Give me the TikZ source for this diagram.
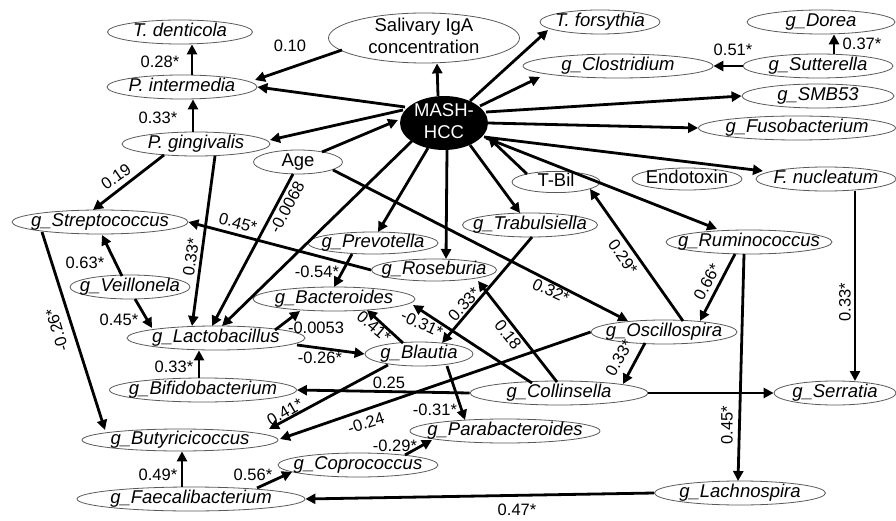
\documentclass[tikz,border=0pt]{standalone}
\usepackage{fontspec}
\setmainfont{Liberation Sans}
\usetikzlibrary{shapes.geometric,arrows.meta}

\newcommand{\gn}[1]{\makebox[0pt]{\itshape #1}}
\newcommand{\vn}[1]{\makebox[0pt]{#1}}

\begin{document}
\begin{tikzpicture}[
  x=1pt, y=-1pt,
  font=\fontsize{18.5}{22}\selectfont,
  ov/.style={ellipse, draw=black!65, line width=0.8pt, inner sep=0pt,
             minimum height=24pt, text height=12pt, text depth=3pt},
  arr/.style={-{Triangle[length=10pt,width=10pt]}, line width=2.8pt},
  lab/.style={font=\fontsize{16.5}{18}\selectfont, inner sep=1pt}
]
\useasboundingbox (0,0) rectangle (896,521);

% --- oral side ---
\node[ov, minimum width=145pt] (tden) at (180,32) {\gn{T. denticola}};
\node[ov, minimum width=150pt] (pint) at (182,87) {\gn{P. intermedia}};
\node[ov, minimum width=148pt] (pgin) at (196,144) {\gn{P. gingivalis}};
\node[ov, minimum width=191pt, minimum height=50pt] (siga) at (424,38)
      {\vn{\begin{tabular}{@{}c@{}}Salivary IgA\\concentration\end{tabular}}};
\node[ov, minimum width=120pt] (tfor) at (600,22) {\gn{T. forsythia}};
\node[ov, minimum width=89pt] (age) at (298,162) {\vn{Age}};

% --- MASH-HCC ---
\node[ellipse, fill=black, minimum width=88pt, minimum height=54pt,
      inner sep=0pt, text=white, text height=12pt, text depth=3pt] (mash)
      at (444,123) {\vn{\begin{tabular}{@{}c@{}}MASH-\\HCC\end{tabular}}};

% --- upper right ---
\node[ov, minimum width=148pt] (dorea) at (821,22) {\gn{g\_Dorea}};
\node[ov, minimum width=150pt] (sutt) at (818,66) {\gn{g\_Sutterella}};
\node[ov, minimum width=190pt] (clos) at (618,66) {\gn{g\_Clostridium}};
\node[ov, minimum width=152pt] (smb) at (818,96) {\gn{g\_SMB53}};
\node[ov, minimum width=197pt] (fuso) at (797,128) {\gn{g\_Fusobacterium}};
\node[ov, minimum width=88pt, minimum height=20pt] (tbil) at (556,182) {\vn{T-Bil}};
\node[ov, minimum width=110pt, minimum height=22pt] (endo) at (687,179) {\vn{Endotoxin}};
\node[ov, minimum width=140pt] (fnuc) at (826,179) {\gn{F. nucleatum}};

% --- gut genera ---
\node[ov, minimum width=176pt] (strep) at (100,222) {\gn{g\_Streptococcus}};
\node[ov, minimum width=130pt, minimum height=22pt] (prev) at (373,243) {\gn{g\_Prevotella}};
\node[ov, minimum width=135pt] (trab) at (530,225) {\gn{g\_Trabulsiella}};
\node[ov, minimum width=166pt] (rumi) at (749,242) {\gn{g\_Ruminococcus}};
\node[ov, minimum width=125pt, minimum height=22pt] (rose) at (434,270) {\gn{g\_Roseburia}};
\node[ov, minimum width=120pt] (veil) at (130,287) {\gn{g\_Veillonela}};
\node[ov, minimum width=162pt] (bact) at (334,299) {\gn{g\_Bacteroides}};
\node[ov, minimum width=178pt] (lact) at (216,338) {\gn{g\_Lactobacillus}};
\node[ov, minimum width=108pt] (blau) at (419,354) {\gn{g\_Blautia}};
\node[ov, minimum width=146pt] (osci) at (664,332) {\gn{g\_Oscillospira}};
\node[ov, minimum width=187pt] (bifi) at (203,390) {\gn{g\_Bifidobacterium}};
\node[ov, minimum width=178pt] (coll) at (559,393) {\gn{g\_Collinsella}};
\node[ov, minimum width=122pt] (serr) at (835,393) {\gn{g\_Serratia}};
\node[ov, minimum width=196pt, minimum height=22pt] (buty) at (180,440) {\gn{g\_Butyricicoccus}};
\node[ov, minimum width=190pt] (para) at (505,431) {\gn{g\_Parabacteroides}};
\node[ov, minimum width=160pt] (copr) at (358,465) {\gn{g\_Coprococcus}};
\node[ov, minimum width=228pt] (faec) at (191,499) {\gn{g\_Faecalibacterium}};
\node[ov, minimum width=171pt] (lach) at (740,493) {\gn{g\_Lachnospira}};

% --- paths ---
\draw[arr] ([shift={(10,0)}]pint.north) -- ([shift={(12,0)}]tden.south);
\draw[arr] ([shift={(-3,0)}]pgin.north) -- ([shift={(11,0)}]pint.south);
\draw[arr] ([shift={(-82,12)}]siga.center) -- ([shift={(73,-7)}]pint.center);
\draw[arr] ([shift={(-39,-16)}]mash.center) -- (pint.east);
\draw[arr] ([shift={(-6,0)}]mash.north) -- ([shift={(13,0)}]siga.south);
\draw[arr] ([shift={(26,-22)}]mash.center) -- ([shift={(-52,8)}]tfor.center);
\draw[arr] ([shift={(36,-17)}]mash.center) -- ([shift={(-78,11)}]clos.center);
\draw[arr] (sutt.west) -- (clos.east);
\draw[arr] ([shift={(16,0)}]sutt.north) -- ([shift={(13,0)}]dorea.south);
\draw[arr] ([shift={(42,-11)}]mash.center) -- (smb.west);
\draw[arr] (mash.east) -- (fuso.west);
\draw[arr] ([shift={(40,14)}]mash.center) -- ([shift={(-63,-8)}]fnuc.center);
\draw[arr] ([shift={(-41,-13)}]mash.center) -- ([shift={(74,-4)}]pgin.center);
\draw[arr] ([shift={(24,-10)}]age.center) -- ([shift={(-46,-3)}]mash.center);
\draw[arr] ([shift={(-32,18)}]mash.center) -- ([shift={(6,-12)}]lact.center);
\draw[arr] ([shift={(19,12)}]pgin.center) -- ([shift={(-24,-12)}]lact.center);
\draw[arr] ([shift={(-5,12)}]age.center) -- ([shift={(-4,-12)}]lact.center);
\draw[arr] ([shift={(-16,25)}]mash.center) -- ([shift={(5,-11)}]prev.center);
\draw[arr] ([shift={(3,27)}]mash.center) -- ([shift={(12,-11)}]rose.center);
\draw[arr] ([shift={(26,22)}]mash.center) -- ([shift={(-10,-12)}]trab.center);
\draw[arr] ([shift={(-29,-8)}]tbil.center) -- ([shift={(44,14)}]mash.center);
\draw[arr] ([shift={(42,15)}]mash.center) -- ([shift={(-32,-13)}]rumi.center);
\draw[arr] ([shift={(19,-11)}]osci.center) -- ([shift={(34,7)}]tbil.center);
\draw[arr] ([shift={(-14,12)}]rumi.center) -- ([shift={(36,-11)}]osci.center);
\draw[arr] ([shift={(-5,12)}]rumi.center) -- ([shift={(-2,-12)}]lach.center);
\draw[arr] ([shift={(29,12)}]fnuc.center) -- ([shift={(20,-12)}]serr.center);
\draw[arr] ([shift={(-32,11)}]pgin.center) -- ([shift={(-7,-12)}]strep.center);
\draw[arr] ([shift={(35,8)}]age.center) -- ([shift={(-36,-11)}]osci.center);
\draw[arr] (rose.west) -- (strep.east);
\draw[arr] ([shift={(-8,-11)}]veil.center) -- ([shift={(2,13)}]strep.center);
\draw[arr] ([shift={(5,12)}]veil.center) -- ([shift={(-64,-10)}]lact.center);
\draw[arr] ([shift={(-58,10)}]strep.center) -- ([shift={(-75,-10)}]buty.center);
\draw[arr] ([shift={(-21,11)}]prev.center) -- ([shift={(0,-12)}]bact.center);
\draw[arr] ([shift={(59,-8)}]lact.center) -- ([shift={(-34,12)}]bact.center);
\draw[arr] ([shift={(81,7)}]lact.center) -- (blau.west);
\draw[arr] ([shift={(-16,-11)}]blau.center) -- ([shift={(33,11)}]bact.center);
\draw[arr] ([shift={(-27,-10)}]coll.center) -- ([shift={(79,6)}]bact.center);
\draw[arr] ([shift={(-2,-11)}]coll.center) -- ([shift={(44,11)}]rose.center);
\draw[arr] ([shift={(2,12)}]trab.center) -- ([shift={(23,-11)}]blau.center);
\draw[arr] ([shift={(-19,11)}]osci.center) -- ([shift={(64,-9)}]coll.center);
\draw[arr] (osci.west) -- ([shift={(100,-1)}]buty.center);
\draw[arr] ([shift={(-31,11)}]blau.center) -- ([shift={(89,-11)}]buty.center);
\draw[arr] (coll.west) -- (bifi.east);
\draw[arr] (coll.east) -- (serr.west);
\draw[arr] ([shift={(-4,0)}]bifi.north) -- ([shift={(-17,0)}]lact.south);
\draw[arr] ([shift={(28,12)}]blau.center) -- ([shift={(-40,-11)}]para.center);
\draw[arr] ([shift={(47,-10)}]copr.center) -- ([shift={(-73,9)}]para.center);
\draw[arr] ([shift={(-9,0)}]faec.north) -- ([shift={(2,0)}]buty.south);
\draw[arr] ([shift={(66,-11)}]faec.center) -- ([shift={(-66,7)}]copr.center);
\draw[arr] (lach.west) -- (faec.east);

% --- coefficients ---
\node[lab] (w1) at (160,62) {0.28*};
\node[lab] (w2) at (158,118) {0.33*};
\node[lab] (w3) at (290,46) {0.10};
\node[lab] (w4) at (733,50) {0.51*};
\node[lab] (w5) at (862,44) {0.37*};
\node[lab, rotate=35] (w6) at (116,177) {0.19};
\node[lab, rotate=82] (w7) at (191,257) {0.33*};
\node[lab, rotate=62] (w8) at (287,207) {-0.0068};
\node[lab, rotate=-15] (w9) at (238,223) {0.45*};
\node[lab] (w10) at (85,263) {0.63*};
\node[lab] (w11) at (119,320) {0.45*};
\node[lab, rotate=107] (w12) at (57,330) {-0.26*};
\node[lab] (w13) at (317,272) {-0.54*};
\node[lab] (w14) at (316,328) {-0.0053};
\node[lab] (w15) at (320,358) {-0.26*};
\node[lab, rotate=-40] (w16) at (374,327) {0.41*};
\node[lab, rotate=-25] (w17) at (422,324) {-0.31*};
\node[lab, rotate=48] (w18) at (464,304) {0.33*};
\node[lab, rotate=-25] (w19) at (551,291) {0.32*};
\node[lab, rotate=-55] (w20) at (623,257) {0.29*};
\node[lab, rotate=62] (w21) at (707,282) {0.66*};
\node[lab, rotate=90] (w22) at (845,302) {0.33*};
\node[lab, rotate=90] (w23) at (727,425) {0.45*};
\node[lab, rotate=-52] (w24) at (508,335) {0.18};
\node[lab, rotate=60] (w25) at (619,358) {0.33*};
\node[lab] (w26) at (389,383) {0.25};
\node[lab, rotate=30] (w27) at (285,412) {0.41*};
\node[lab, rotate=18] (w28) at (366,423) {-0.24};
\node[lab] (w29) at (435,410) {-0.31*};
\node[lab] (w30) at (395,446) {-0.29*};
\node[lab] (w31) at (174,367) {0.33*};
\node[lab] (w32) at (158,475) {0.49*};
\node[lab] (w33) at (253,475) {0.56*};
\node[lab] (w34) at (517,510) {0.47*};

\end{tikzpicture}
\end{document}
